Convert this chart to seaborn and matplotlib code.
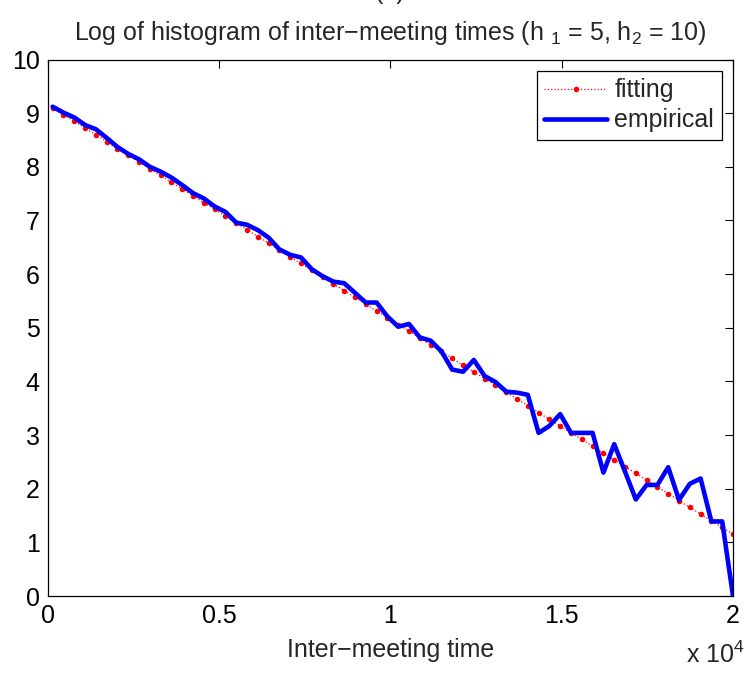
import numpy as np
import pandas as pd
import matplotlib
matplotlib.use("Agg")
import matplotlib.pyplot as plt
import seaborn as sns

# ---------------- data ----------------
# bin centres of the inter-meeting-time histogram (64 evenly spaced bins)
bin_centers = np.linspace(135, 20000, 64)

# log of histogram counts (empirical)
empirical = [
    9.12, 9.01, 8.92, 8.78, 8.70, 8.54, 8.37, 8.24, 8.14, 8.00,
    7.91, 7.80, 7.66, 7.51, 7.41, 7.26, 7.16, 6.96, 6.92, 6.82,
    6.68, 6.46, 6.36, 6.31, 6.09, 5.96, 5.86, 5.83, 5.65, 5.47,
    5.47, 5.21, 5.02, 5.07, 4.82, 4.76, 4.56, 4.22, 4.18, 4.40,
    4.10, 3.99, 3.81, 3.79, 3.75, 3.04, 3.17, 3.39, 3.04, 3.04,
    3.04, 2.30, 2.83, 2.32, 1.80, 2.07, 2.07, 2.40, 1.79, 2.09,
    2.19, 1.39, 1.39, 0.00,
]

# fitted curve
fitting = [
    9.10, 8.97, 8.85, 8.72, 8.60, 8.47, 8.34, 8.22, 8.09, 7.96,
    7.84, 7.71, 7.59, 7.46, 7.33, 7.21, 7.08, 6.95, 6.83, 6.70,
    6.58, 6.45, 6.32, 6.20, 6.07, 5.95, 5.82, 5.69, 5.57, 5.44,
    5.31, 5.19, 5.06, 4.94, 4.81, 4.68, 4.56, 4.43, 4.30, 4.18,
    4.05, 3.93, 3.80, 3.67, 3.55, 3.42, 3.29, 3.17, 3.04, 2.92,
    2.79, 2.66, 2.54, 2.41, 2.29, 2.16, 2.03, 1.91, 1.78, 1.65,
    1.53, 1.40, 1.28, 1.15,
]

x_ticks = [0, 5000, 10000, 15000, 20000]
x_tick_labels = ["0", "0.5", "1", "1.5", "2"]
y_ticks = list(range(0, 11))

title = "Log of histogram of inter\u2212meeting times (h $_1$ = 5, h$_2$ = 10)"
x_label = "Inter\u2212meeting time"

df = pd.DataFrame({"x": bin_centers, "empirical": empirical, "fitting": fitting})

# ---------------- style ----------------
sns.set_style("white")
plt.rcParams["font.family"] = ["Liberation Sans", "DejaVu Sans"]
plt.rcParams["mathtext.default"] = "regular"
plt.rcParams["font.size"] = 18
plt.rcParams["axes.unicode_minus"] = True

fig = plt.figure(figsize=(7.44, 6.75), dpi=100)
ax = fig.add_axes([48 / 744, 1 - 596 / 675, (733 - 48) / 744, (596 - 59.5) / 675])

sns.lineplot(data=df, x="x", y="fitting", ax=ax, color="#ff0000",
             linestyle=":", linewidth=0.9, marker="o", markersize=4,
             markeredgewidth=0, label="fitting")
sns.lineplot(data=df, x="x", y="empirical", ax=ax, color="#0000ff",
             linewidth=3.3, label="empirical")

ax.set_xlim(0, 20000)
ax.set_ylim(0, 10)
ax.set_xticks(x_ticks)
ax.set_xticklabels(x_tick_labels)
ax.set_yticks(y_ticks)
ax.tick_params(direction="in", top=True, right=True, length=6, width=0.8,
               labelsize=18, colors="black", pad=6)
for s in ax.spines.values():
    s.set_color("black")
    s.set_linewidth(0.9)

ax.set_ylabel("")
ax.set_xlabel(x_label, fontsize=18, labelpad=7)

ax.text(0.5, 1.036, title, transform=ax.transAxes, ha="center",
        va="baseline", fontsize=18)
fig.text(390 / 744, 1 + 1 / 675, "(a)", ha="center", va="baseline", fontsize=18)
fig.text(686 / 744, 1 - 663 / 675, "x 10$^4$", ha="left", va="baseline", fontsize=18)

leg = ax.legend(loc="upper right", fontsize=18, frameon=True, fancybox=False,
                edgecolor="black", framealpha=1, numpoints=1,
                handlelength=2.5, handletextpad=0.3, labelspacing=0.25,
                borderpad=0.3, borderaxespad=0.45)
leg.get_frame().set_linewidth(0.9)

fig.savefig("out.png", dpi=100)
